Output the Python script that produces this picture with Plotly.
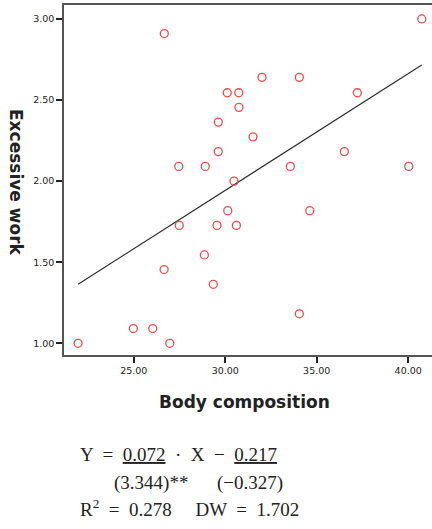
import plotly.graph_objects as go

# Data
body_composition = [26.67, 40.74, 32.01, 34.05, 30.11, 30.74, 37.22, 30.75, 29.62, 31.52,
                    29.62, 36.51, 27.46, 28.91, 33.56, 40.03, 30.48, 30.14, 34.62, 27.49,
                    29.55, 30.61, 28.86, 26.66, 29.35, 34.05, 24.98, 26.04, 21.96, 26.97]
excessive_work = [2.91, 3.00, 2.64, 2.64, 2.545, 2.545, 2.545, 2.455, 2.364, 2.273,
                  2.182, 2.182, 2.091, 2.091, 2.091, 2.091, 2.00, 1.818, 1.818, 1.727,
                  1.727, 1.727, 1.545, 1.455, 1.364, 1.182, 1.091, 1.091, 1.00, 1.00]
slope = 0.072
intercept = -0.217
x_ticks = [25, 30, 35, 40]
y_ticks = [1.0, 1.5, 2.0, 2.5, 3.0]

x_line = [min(body_composition), max(body_composition)]
y_line = [slope * v + intercept for v in x_line]

fig = go.Figure()
fig.add_trace(go.Scatter(x=x_line, y=y_line, mode="lines",
                         line=dict(color="#2a2a2a", width=1.1), hoverinfo="skip"))
fig.add_trace(go.Scatter(x=body_composition, y=excessive_work, mode="markers",
                         marker=dict(symbol="circle-open", size=8, color="#f04a4a",
                                     line=dict(width=1.3, color="#f04a4a"))))

axis_font = dict(family="DejaVu Sans, sans-serif", size=9.5, color="#222222")
fig.update_layout(
    width=432, height=529,
    margin=dict(l=64, r=0, t=5, b=174),
    paper_bgcolor="white", plot_bgcolor="white",
    showlegend=False,
    xaxis=dict(range=[21.19, 41.30], tickvals=x_ticks,
               ticktext=[f"{v:.2f}" for v in x_ticks],
               showgrid=False, zeroline=False, showline=True, mirror=True,
               linecolor="#555555", linewidth=1.5,
               ticks="outside", ticklen=6, tickwidth=2, tickcolor="#222222",
               tickfont=axis_font),
    yaxis=dict(range=[0.928, 3.086], tickvals=y_ticks,
               ticktext=[f"{v:.2f}" for v in y_ticks],
               showgrid=False, zeroline=False, showline=True, mirror=False,
               linecolor="#555555", linewidth=1.5,
               ticks="outside", ticklen=6, tickwidth=2, tickcolor="#222222",
               tickfont=axis_font),
)

title_font = dict(family="DejaVu Sans, sans-serif", size=17, color="#222222")
fig.add_annotation(text="<b>Body composition</b>", xref="paper", yref="paper",
                   x=(244.5 - 64) / 368, y=-(401.7 - 355) / 350, showarrow=False,
                   font=title_font, xanchor="center", yanchor="middle")
fig.add_annotation(text="<b>Excessive work</b>", xref="paper", yref="paper",
                   x=-(64 - 16) / 368, y=(355 - 182) / 350, showarrow=False,
                   font=title_font, textangle=90, xanchor="center", yanchor="middle")

eq_font = dict(family="Liberation Serif, Times New Roman, serif", size=19, color="#222222")
eq_lines = [
    ("Y  =  <u>0.072</u>  ·  X  −  <u>0.217</u>", 78, 455),
    ("(3.344)**      (−0.327)", 112, 483),
    ("R<sup>2</sup>  =  0.278     DW  =  1.702", 78, 508),
]
for txt, px, py in eq_lines:
    fig.add_annotation(text=txt, xref="paper", yref="paper",
                       x=(px - 64) / 368, y=-(py - 355) / 350, showarrow=False,
                       font=eq_font, xanchor="left", yanchor="middle")

fig.write_html("out.html")
